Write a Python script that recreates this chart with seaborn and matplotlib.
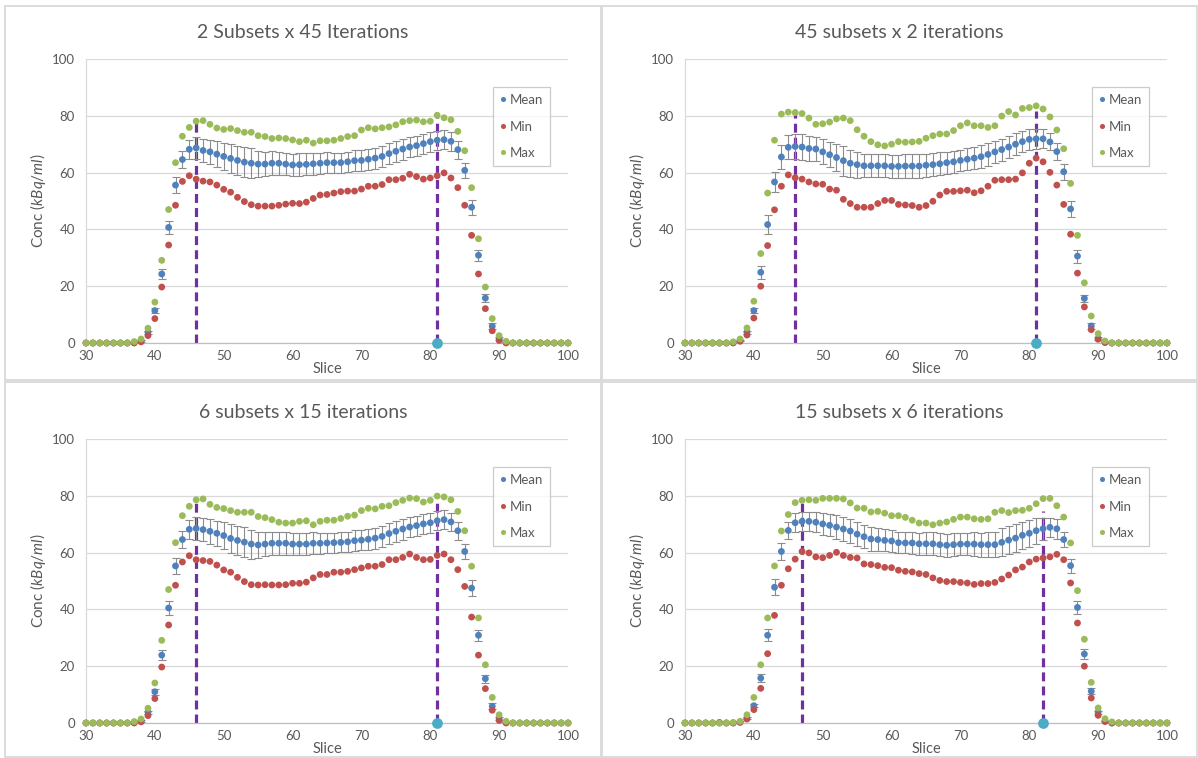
import matplotlib
matplotlib.use("Agg")
import matplotlib.pyplot as plt
from matplotlib.patches import Rectangle
import numpy as np
import pandas as pd
import seaborn as sns

slices = list(range(30, 101))
series_names = ["Mean", "Min", "Max"]
series_colors = {"Mean": "#4F81BD", "Min": "#C0504D", "Max": "#9BBB59"}

# ---- 2 Subsets x 45 Iterations ----
p1_title = "2 Subsets x 45 Iterations"
p1_mean = [0, 0, 0, 0, 0, 0, 0, 0.2, 0.8, 3.8,
           11.4, 24.3, 40.7, 55.6, 64.6, 68.2, 68.7, 67.8, 67.3, 66.5,
           65.7, 65.0, 64.3, 63.7, 63.3, 63.0, 63.0, 63.3, 63.3, 63.0,
           62.7, 62.8, 62.9, 63.1, 63.3, 63.5, 63.5, 63.5, 63.8, 64.2,
           64.3, 64.7, 65.1, 65.7, 66.7, 67.5, 68.3, 69.0, 69.5, 70.2,
           70.9, 71.4, 71.6, 71.0, 68.1, 60.8, 47.8, 30.9, 15.8, 5.9,
           1.6, 0.2, 0, 0, 0, 0, 0, 0, 0, 0,
           0]
p1_min = [0, 0, 0, 0, 0, 0, 0, 0, 0.4, 2.6,
          8.6, 19.7, 34.5, 48.5, 56.9, 58.9, 57.7, 57.0, 56.7, 55.6,
          54.1, 53.1, 51.3, 49.8, 48.7, 48.2, 48.2, 48.2, 48.5, 48.9,
          49.2, 49.1, 49.6, 50.9, 52.1, 52.3, 52.8, 53.3, 53.5, 53.5,
          54.2, 55.2, 55.2, 55.8, 57.5, 57.5, 58.0, 59.4, 58.6, 57.7,
          58.1, 58.9, 59.9, 58.1, 54.7, 48.5, 37.9, 24.3, 12.1, 4.3,
          0.9, 0, 0, 0, 0, 0, 0, 0, 0, 0,
          0]
p1_max = [0, 0, 0, 0, 0, 0, 0, 0.5, 1.4, 5.2,
          14.4, 29.1, 47.0, 63.5, 72.8, 75.9, 78.1, 78.3, 77.0, 75.7,
          75.2, 75.5, 74.8, 74.2, 74.2, 73.0, 72.7, 72.0, 72.2, 72.0,
          71.5, 70.9, 71.4, 70.4, 71.2, 71.2, 71.4, 72.0, 72.7, 73.0,
          75.0, 75.8, 75.4, 75.8, 76.1, 76.8, 77.9, 78.3, 78.5, 77.9,
          78.1, 80.2, 79.3, 78.6, 74.5, 67.7, 54.7, 36.7, 19.7, 8.6,
          2.6, 0.6, 0, 0, 0, 0, 0, 0, 0, 0,
          0]
p1_err = [0, 0, 0, 0, 0, 0, 0, 0, 0.3, 0.5,
          1.0, 1.9, 2.3, 2.8, 3.0, 3.4, 3.9, 4.0, 4.3, 4.5,
          4.7, 5.0, 5.2, 5.3, 5.2, 4.6, 4.3, 4.2, 4.1, 4.0,
          4.0, 4.0, 3.9, 3.8, 3.7, 3.6, 3.5, 3.5, 3.5, 3.6,
          3.6, 3.7, 3.7, 3.8, 3.8, 3.7, 3.7, 3.6, 3.5, 3.5,
          3.5, 3.4, 3.4, 3.3, 3.2, 2.6, 2.7, 2.0, 1.4, 1.0,
          0.5, 0, 0, 0, 0, 0, 0, 0, 0, 0,
          0]
p1_markers = [46, 81]
p1_marker_tops = [78.0, 80.4]
p1_origin = 81

# ---- 45 subsets x 2 iterations ----
p2_title = "45 subsets x 2 iterations"
p2_mean = [0, 0, 0, 0, 0, 0, 0, 0.2, 0.9, 3.8,
           11.4, 24.9, 41.7, 56.7, 65.5, 68.9, 69.2, 69.0, 68.5, 68.3,
           67.3, 66.3, 65.3, 64.2, 63.3, 62.8, 62.4, 62.4, 62.4, 62.4,
           62.2, 62.2, 62.3, 62.3, 62.3, 62.6, 62.8, 63.1, 63.5, 63.8,
           64.3, 64.7, 65.1, 65.6, 66.4, 67.3, 68.1, 69.0, 70.0, 70.9,
           71.7, 71.9, 71.9, 70.8, 67.4, 60.3, 47.2, 30.6, 15.7, 6.0,
           1.6, 0.2, 0, 0, 0, 0, 0, 0, 0, 0,
           0]
p2_min = [0, 0, 0, 0, 0, 0, 0, 0, 0.6, 2.8,
          8.8, 20.0, 34.3, 46.9, 55.2, 59.2, 58.2, 57.7, 56.7, 56.0,
          55.9, 54.2, 53.8, 50.6, 49.1, 47.8, 47.8, 47.8, 49.1, 50.2,
          50.2, 48.8, 48.6, 48.4, 47.8, 48.4, 49.9, 52.1, 53.4, 53.4,
          53.6, 53.8, 52.9, 53.6, 55.2, 57.3, 57.5, 57.5, 57.7, 59.9,
          63.3, 65.1, 63.8, 60.1, 55.6, 48.8, 38.3, 24.6, 12.7, 4.7,
          1.3, 0.2, 0, 0, 0, 0, 0, 0, 0, 0,
          0]
p2_max = [0, 0, 0, 0, 0, 0, 0, 0.4, 1.4, 5.3,
          14.7, 31.5, 52.8, 71.4, 80.6, 81.3, 81.1, 80.8, 79.2, 77.0,
          77.2, 77.8, 78.9, 79.2, 78.3, 75.1, 72.8, 70.9, 69.8, 69.4,
          70.0, 70.9, 70.7, 70.8, 71.0, 72.1, 73.0, 73.6, 73.6, 74.8,
          76.5, 77.5, 76.5, 76.5, 75.9, 76.5, 79.9, 81.5, 80.3, 82.6,
          82.9, 83.5, 82.4, 79.6, 75.0, 68.4, 56.2, 37.9, 21.2, 9.5,
          3.3, 0.7, 0, 0, 0, 0, 0, 0, 0, 0,
          0]
p2_err = [0, 0, 0, 0, 0, 0, 0, 0, 0.3, 0.5,
          0.8, 2.3, 3.3, 3.6, 4.1, 4.2, 4.5, 4.5, 4.5, 4.3,
          4.4, 4.4, 4.9, 5.3, 4.8, 4.6, 4.1, 4.1, 4.1, 4.1,
          4.1, 4.1, 4.2, 4.2, 4.2, 4.1, 4.0, 4.0, 3.9, 3.8,
          3.8, 3.9, 4.0, 4.1, 4.1, 4.0, 3.9, 3.8, 3.8, 3.8,
          3.7, 3.5, 3.3, 3.0, 2.9, 2.9, 2.8, 2.3, 1.3, 1.2,
          0.5, 0, 0, 0, 0, 0, 0, 0, 0, 0,
          0]
p2_markers = [46, 81]
p2_marker_tops = [82.7, 81.6]
p2_origin = 81

# ---- 6 subsets x 15 iterations ----
p3_title = "6 subsets x 15 iterations"
p3_mean = [0, 0, 0, 0, 0, 0, 0, 0.2, 0.8, 3.8,
           11.0, 23.9, 40.5, 55.3, 64.6, 68.2, 68.5, 68.1, 67.5, 66.8,
           66.0, 65.0, 64.3, 63.7, 63.0, 62.7, 63.0, 63.3, 63.3, 63.3,
           63.0, 63.0, 63.0, 63.3, 63.3, 63.4, 63.5, 63.6, 63.8, 64.2,
           64.4, 64.7, 65.1, 65.7, 66.7, 67.5, 68.3, 69.0, 69.5, 70.1,
           70.5, 71.2, 71.6, 70.8, 67.7, 60.4, 47.5, 30.9, 15.6, 5.9,
           1.6, 0.2, 0, 0, 0, 0, 0, 0, 0, 0,
           0]
p3_min = [0, 0, 0, 0, 0, 0, 0, 0, 0.4, 2.6,
          8.6, 19.7, 34.5, 48.5, 56.7, 58.9, 57.5, 57.2, 56.9, 55.6,
          53.9, 53.1, 51.3, 49.8, 48.7, 48.6, 48.7, 48.6, 48.6, 48.7,
          49.2, 49.2, 49.6, 51.1, 52.3, 52.3, 53.1, 53.1, 53.4, 54.0,
          54.6, 55.2, 55.2, 55.8, 57.5, 57.5, 58.3, 59.5, 58.3, 57.5,
          57.6, 59.0, 59.5, 57.5, 54.0, 48.1, 37.3, 23.9, 12.1, 4.5,
          0.9, 0, 0, 0, 0, 0, 0, 0, 0, 0,
          0]
p3_max = [0, 0, 0, 0, 0, 0, 0, 0.5, 1.4, 5.2,
          14.1, 29.1, 47.0, 63.5, 73.0, 76.3, 78.6, 78.9, 77.0, 75.9,
          75.5, 74.8, 74.2, 74.2, 74.2, 72.7, 72.3, 71.6, 70.7, 70.4,
          70.4, 71.0, 71.2, 69.8, 71.0, 71.4, 71.4, 72.0, 72.8, 73.2,
          74.8, 75.6, 75.4, 76.3, 76.5, 77.6, 78.4, 79.2, 79.0, 77.8,
          78.4, 79.9, 79.6, 78.6, 74.5, 67.7, 55.2, 37.0, 20.5, 9.0,
          2.9, 0.6, 0, 0, 0, 0, 0, 0, 0, 0,
          0]
p3_err = [0, 0, 0, 0, 0, 0, 0, 0, 0.3, 0.5,
          1.0, 1.8, 2.3, 2.8, 3.0, 3.4, 4.0, 4.1, 4.3, 4.5,
          4.7, 5.0, 5.2, 5.2, 5.1, 4.7, 4.2, 4.1, 4.0, 4.0,
          4.0, 4.0, 3.9, 3.8, 3.7, 3.6, 3.5, 3.5, 3.5, 3.6,
          3.6, 3.7, 3.7, 3.8, 3.8, 3.7, 3.7, 3.6, 3.5, 3.5,
          3.5, 3.4, 3.4, 3.3, 3.2, 2.6, 2.7, 2.0, 1.4, 1.0,
          0.5, 0, 0, 0, 0, 0, 0, 0, 0, 0,
          0]
p3_markers = [46, 81]
p3_marker_tops = [78.6, 80.0]
p3_origin = 81

# ---- 15 subsets x 6 iterations ----
p4_title = "15 subsets x 6 iterations"
p4_mean = [0, 0, 0, 0, 0, 0, 0, 0, 0.4, 1.8,
           6.1, 15.8, 30.9, 47.8, 60.4, 67.8, 70.5, 71.0, 71.0, 70.7,
           70.1, 69.6, 69.0, 68.3, 67.6, 66.5, 65.6, 64.8, 64.6, 64.3,
           64.1, 63.5, 63.4, 63.4, 63.1, 63.1, 63.1, 62.8, 62.6, 62.8,
           63.0, 63.0, 63.0, 62.8, 62.8, 62.8, 63.6, 64.4, 65.1, 66.1,
           66.8, 67.7, 68.4, 68.9, 68.4, 64.6, 55.4, 40.7, 24.3, 11.2,
           3.8, 0.7, 0, 0, 0, 0, 0, 0, 0, 0,
           0]
p4_min = [0, 0, 0, 0, 0, 0.2, 0, 0, 0.2, 1.4,
          4.7, 12.2, 24.4, 37.9, 48.5, 54.3, 57.7, 60.4, 59.9, 58.5,
          58.2, 59.0, 60.1, 59.0, 58.3, 58.1, 56.0, 55.8, 55.4, 54.8,
          54.7, 53.8, 53.4, 53.2, 52.6, 52.3, 51.1, 50.2, 49.8, 49.8,
          49.5, 49.3, 48.8, 49.1, 49.1, 49.5, 50.7, 52.1, 53.9, 54.9,
          56.7, 57.7, 58.1, 58.5, 59.4, 57.5, 49.3, 35.2, 20.0, 8.8,
          2.7, 0.5, 0, 0, 0, 0, 0, 0, 0, 0,
          0]
p4_max = [0, 0, 0, 0, 0, 0, 0, 0.2, 0.6, 2.9,
          9.0, 20.5, 37.0, 55.3, 67.6, 73.4, 77.6, 78.4, 78.6, 78.4,
          79.1, 79.1, 79.1, 78.9, 77.5, 75.7, 75.6, 74.3, 74.5, 73.9,
          73.0, 73.0, 72.4, 71.4, 70.4, 70.4, 69.8, 70.4, 70.8, 71.7,
          72.5, 72.5, 71.9, 71.7, 71.9, 74.2, 74.8, 74.1, 74.8, 74.9,
          75.6, 77.2, 79.0, 79.1, 76.5, 72.5, 63.4, 46.6, 29.5, 14.3,
          5.3, 1.5, 0.4, 0, 0, 0, 0, 0, 0, 0,
          0]
p4_err = [0, 0, 0, 0, 0, 0, 0, 0, 0.3, 0.4,
          0.6, 1.5, 2.1, 2.8, 2.9, 3.1, 3.3, 3.3, 3.4, 3.6,
          3.8, 3.9, 4.2, 4.2, 4.3, 4.2, 4.1, 4.1, 4.1, 3.9,
          3.9, 3.6, 3.7, 3.8, 3.9, 4.0, 4.0, 4.0, 4.0, 4.0,
          4.0, 4.0, 4.1, 4.2, 4.3, 4.5, 4.9, 4.9, 4.9, 4.8,
          4.7, 4.6, 3.8, 3.3, 3.5, 2.5, 2.5, 2.2, 1.6, 1.0,
          0.5, 0, 0, 0, 0, 0, 0, 0, 0, 0,
          0]
p4_markers = [47, 82]
p4_marker_tops = [78.0, 74.5]
p4_origin = 82

x_ticks = [30, 40, 50, 60, 70, 80, 90, 100]
y_ticks = [0, 20, 40, 60, 80, 100]

panels = [
    (p1_title, p1_mean, p1_min, p1_max, p1_err, p1_markers, p1_marker_tops, p1_origin),
    (p2_title, p2_mean, p2_min, p2_max, p2_err, p2_markers, p2_marker_tops, p2_origin),
    (p3_title, p3_mean, p3_min, p3_max, p3_err, p3_markers, p3_marker_tops, p3_origin),
    (p4_title, p4_mean, p4_min, p4_max, p4_err, p4_markers, p4_marker_tops, p4_origin),
]

sns.set_theme(style="white")
plt.rcParams["font.family"] = ["Lato", "DejaVu Sans"]
plt.rcParams["mathtext.fontset"] = "custom"
plt.rcParams["mathtext.rm"] = "Lato"
plt.rcParams["mathtext.it"] = "Lato:italic"

TEXT = "#595959"
W, H = 1198, 758
fig = plt.figure(figsize=(W / 100, H / 100), dpi=100)
fig.patch.set_facecolor("white")

# chart frames (px: x0, y0, x1, y1) and plot areas (px: left, top, right, bottom)
frames = [(5, 6, 601, 380), (602, 6, 1197, 380), (5, 382, 601, 757), (602, 382, 1197, 757)]
areas = [(86, 59, 568, 343), (685, 59, 1167, 343), (86, 439, 568, 723), (685, 439, 1167, 723)]

for (title, mean, vmin, vmax, err, mk, mk_top, origin), (fx0, fy0, fx1, fy1), (l, t, r, b) in zip(panels, frames, areas):
    fig.add_artist(Rectangle((fx0 / W, 1 - fy1 / H), (fx1 - fx0) / W, (fy1 - fy0) / H,
                             transform=fig.transFigure, fill=False,
                             edgecolor="#D9D9D9", linewidth=1.3))
    ax = fig.add_axes([l / W, 1 - b / H, (r - l) / W, (b - t) / H])

    df = pd.concat([
        pd.DataFrame({"Slice": slices, "Conc": vals, "Series": name})
        for name, vals in zip(series_names, [mean, vmin, vmax])
    ], ignore_index=True)

    # peak-slice markers
    ax.vlines(mk, 0, mk_top, colors="#7030A0", linewidth=2.3,
              linestyles=(0, (2.8, 1.6)), zorder=2)
    # mean +/- spread
    ax.errorbar(slices, mean, yerr=err, fmt="none", ecolor="#8C8C8C",
                elinewidth=0.8, capsize=2.6, capthick=0.8, zorder=2.5)
    sns.scatterplot(data=df, x="Slice", y="Conc", hue="Series",
                    hue_order=series_names, palette=series_colors,
                    s=24, linewidth=0, ax=ax, zorder=3, clip_on=False)
    ax.scatter([origin], [0], s=60, color="#4BACC6", linewidth=0, zorder=4,
               clip_on=False)

    sns.move_legend(ax, "upper right", bbox_to_anchor=(0.962, 0.90), title=None,
                    frameon=True, fancybox=False, edgecolor="#BFBFBF",
                    fontsize=9.5, labelcolor=TEXT, handletextpad=0.2,
                    labelspacing=1.1, borderpad=0.5, markerscale=0.75,
                    handlelength=0.6, borderaxespad=0)
    leg = ax.get_legend()
    leg.get_frame().set_linewidth(0.9)

    ax.set_xlim(30, 100)
    ax.set_ylim(0, 100)
    ax.set_xticks(x_ticks)
    ax.set_yticks(y_ticks)
    ax.yaxis.grid(True, color="#D9D9D9", linewidth=0.9)
    ax.xaxis.grid(False)
    ax.set_axisbelow(True)
    for side in ("top", "right"):
        ax.spines[side].set_visible(False)
    ax.spines["left"].set_color("#D9D9D9")
    ax.spines["bottom"].set_color("#BFBFBF")
    ax.spines["left"].set_linewidth(0.9)
    ax.spines["bottom"].set_linewidth(0.9)
    ax.tick_params(axis="x", length=3, width=0.8, color="#BFBFBF",
                   labelsize=9.5, labelcolor=TEXT, pad=2)
    ax.tick_params(axis="y", length=0, labelsize=9.5, labelcolor=TEXT, pad=8)
    ax.set_xlabel("Slice", fontsize=10.5, color=TEXT, labelpad=0)
    ax.set_ylabel(r"Conc ($\mathit{kBq/ml}$)", fontsize=11, color=TEXT, labelpad=3)

    fig.text((fx0 + fx1) / 2 / W, 1 - (t - 27) / H, title, ha="center", va="center",
             fontsize=14, color=TEXT)

fig.savefig("out.png", dpi=100, facecolor="white")
